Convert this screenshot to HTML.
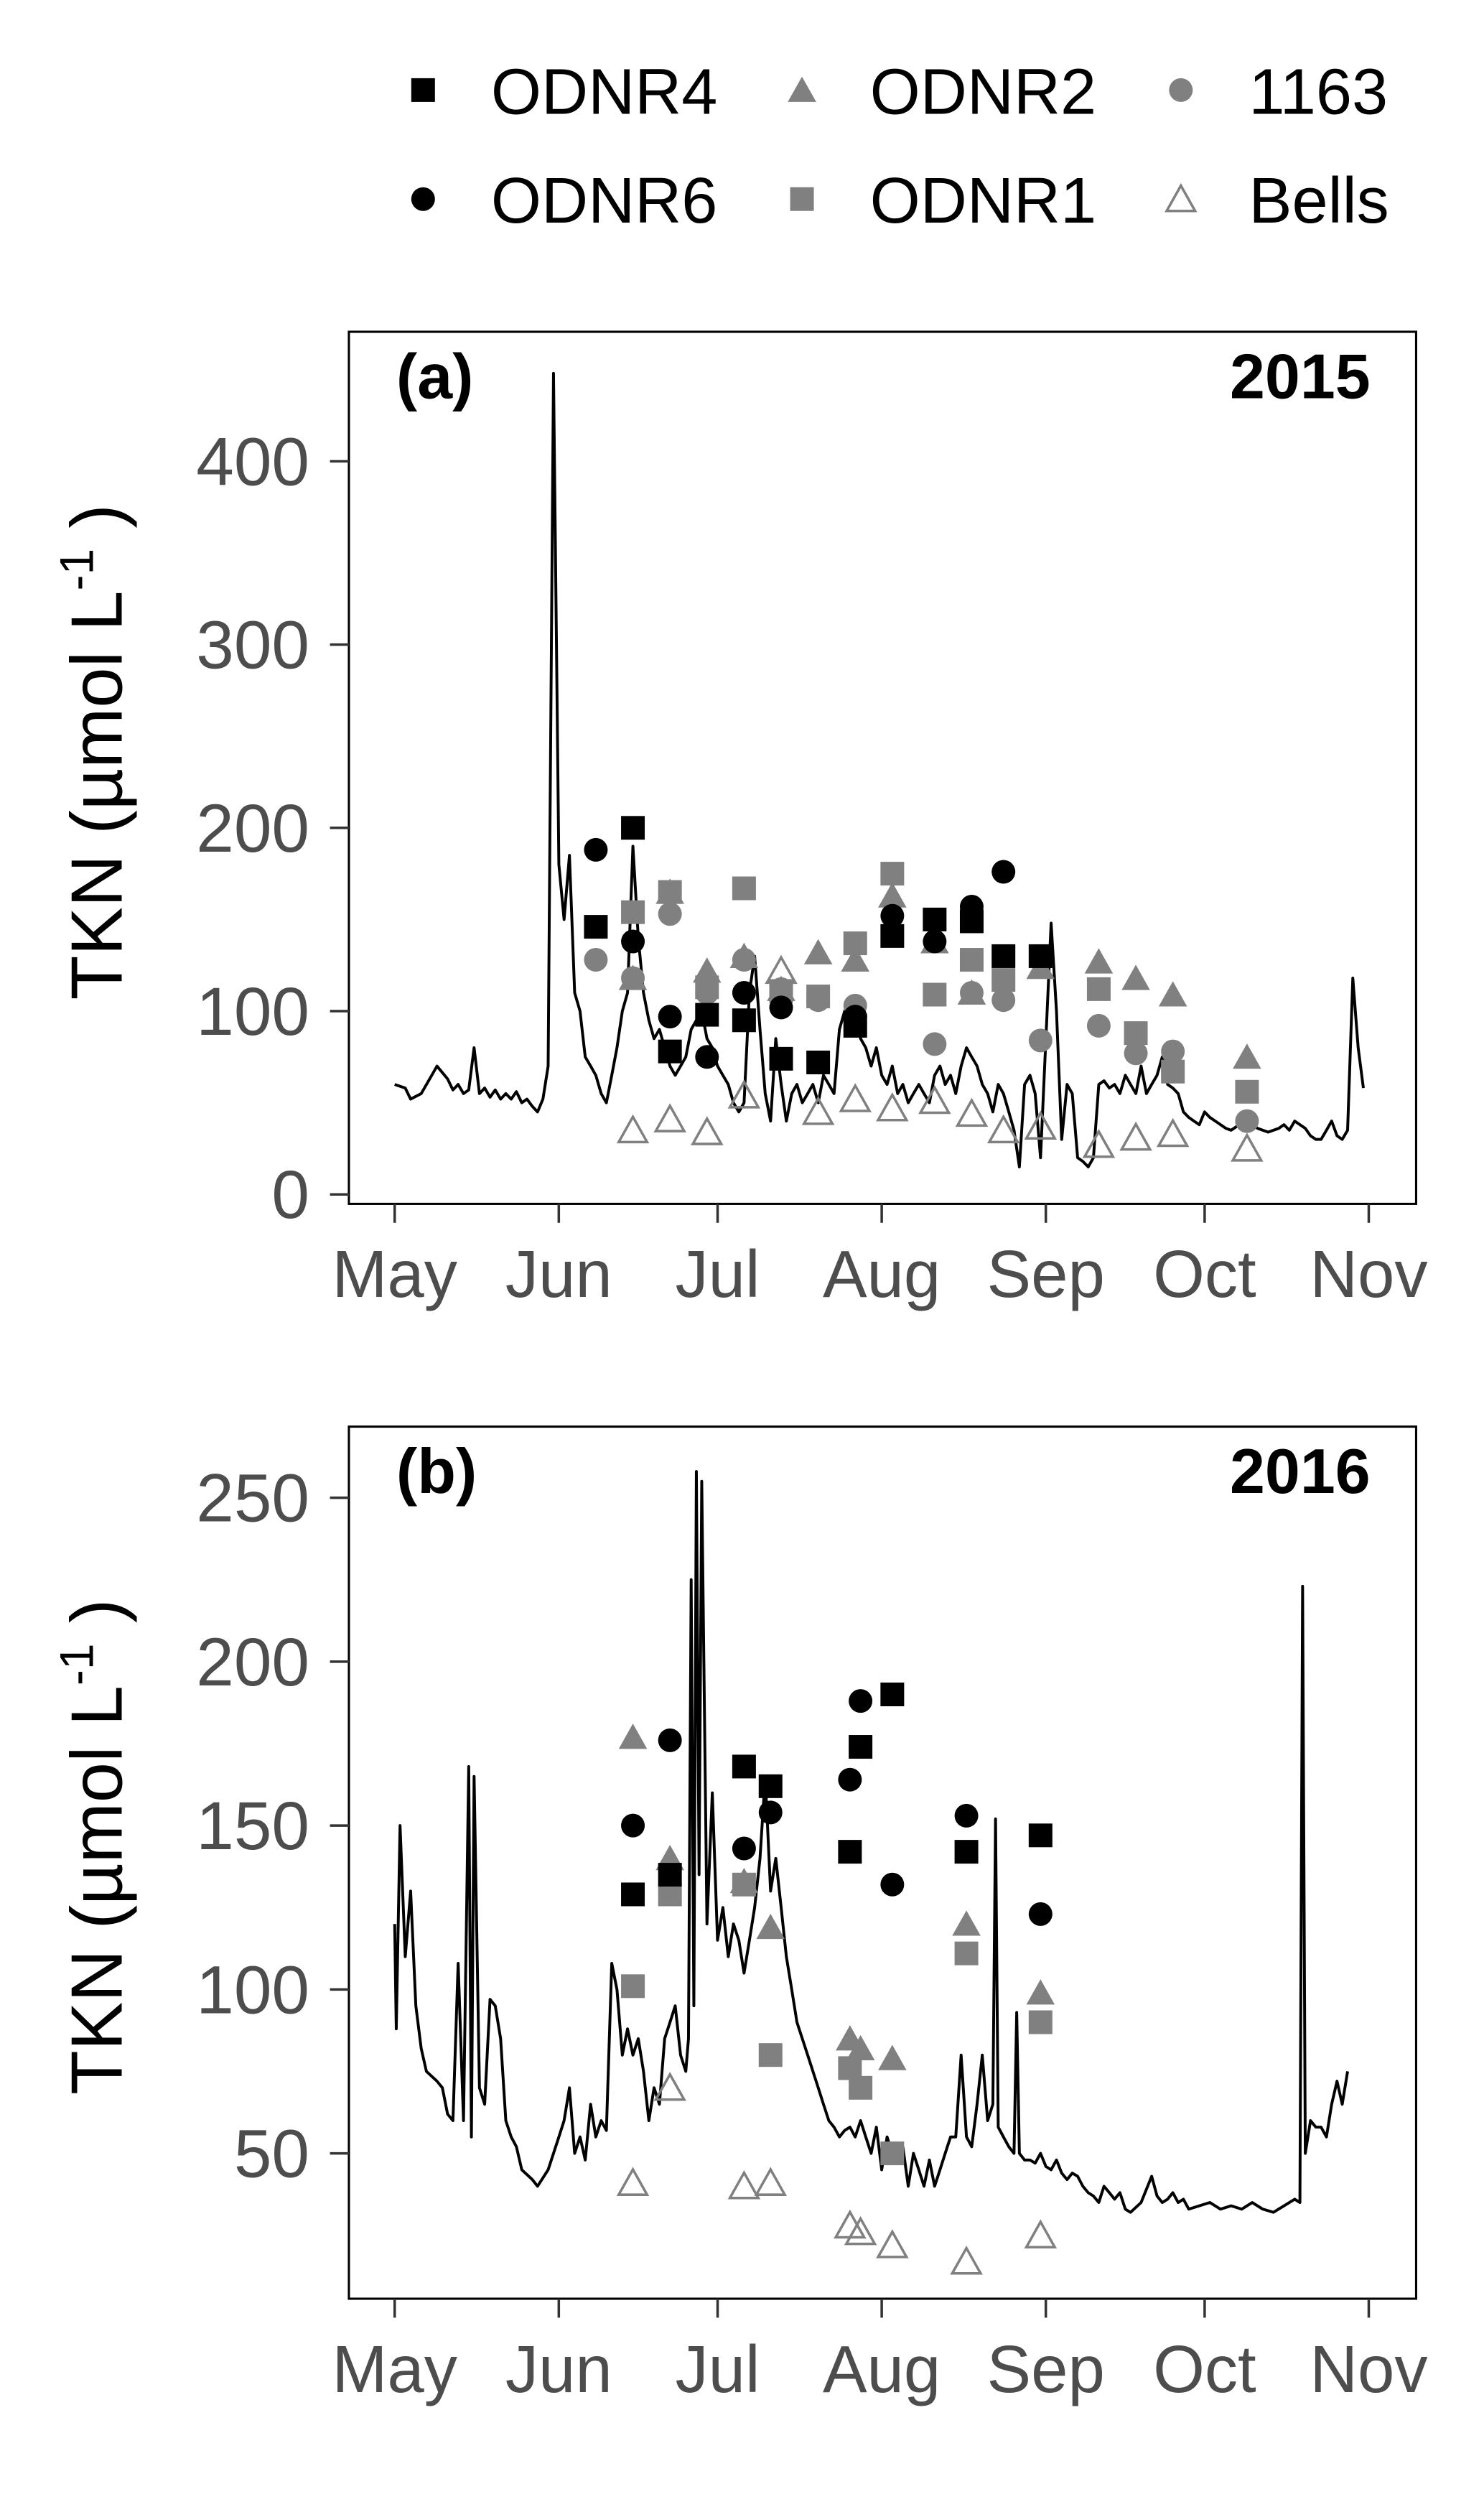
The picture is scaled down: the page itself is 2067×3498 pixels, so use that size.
<!DOCTYPE html>
<html><head><meta charset="utf-8">
<style>
html,body{margin:0;padding:0;background:#fff;}
svg{display:block;font-family:"Liberation Sans",Arial,sans-serif;}
</style></head>
<body>
<svg id="chart" width="2067" height="3498" viewBox="0 0 940 1590" preserveAspectRatio="none" xmlns="http://www.w3.org/2000/svg">
<g id="legend"></g>
<g id="pa"></g>
<g id="pb"></g>
</svg>
<script>
const monthLabels=["May","Jun","Jul","Aug","Sep","Oct","Nov"];
const monthDays=[0,31,61,92,123,153,184];
const ticksA=[0,100,200,300,400];
const ticksB=[50,100,150,200,250];
// 2015 data [day since May 1, TKN]
const lineA=[[0,60],[2,58],[3,52],[5,55],[7,65],[8,70],[10,63],[11,57],[12,60],[13,55],[14,57],[15,80],[16,55],[17,58],[18,53],[19,57],[20,52],[21,55],[22,52],[23,56],[24,50],[25,52],[26,48],[27,45],[28,52],[29,70],[30,448],[31,180],[32,150],[33,185],[34,110],[35,100],[36,75],[37,70],[38,65],[39,55],[40,50],[41,65],[42,80],[43,100],[44,110],[45,190],[46,140],[47,110],[48,95],[49,85],[50,90],[51,80],[52,70],[53,65],[54,70],[55,75],[56,90],[57,95],[58,100],[59,85],[60,80],[61,70],[62,65],[63,60],[64,50],[65,45],[66,50],[67,110],[68,130],[69,90],[70,55],[71,40],[72,85],[73,60],[74,40],[75,55],[76,60],[77,50],[78,55],[79,60],[80,50],[81,65],[82,60],[83,55],[84,90],[85,100],[86,105],[87,100],[88,85],[89,80],[90,70],[91,80],[92,65],[93,60],[94,70],[95,55],[96,60],[97,50],[98,55],[99,60],[100,55],[101,50],[102,65],[103,70],[104,60],[105,65],[106,55],[107,70],[108,80],[109,75],[110,70],[111,60],[112,55],[113,45],[114,60],[115,55],[116,45],[117,35],[118,15],[119,60],[120,65],[121,55],[122,20],[124,148],[125,100],[126,30],[127,60],[128,55],[129,20],[130,18],[131,15],[132,20],[133,60],[134,62],[135,58],[136,60],[137,55],[138,65],[139,60],[140,55],[141,70],[142,55],[143,60],[144,65],[145,75],[146,60],[147,58],[148,55],[149,45],[150,42],[151,40],[152,38],[153,45],[154,42],[155,40],[156,38],[157,36],[158,35],[159,37],[160,40],[161,42],[162,38],[163,36],[164,35],[165,34],[166,35],[167,36],[168,38],[169,35],[170,40],[171,38],[172,36],[173,32],[174,30],[175,30],[176,35],[177,40],[178,32],[179,30],[180,35],[181,118],[182,80],[183,58]];
const odnr4A=[[38,146],[45,200],[52,78],[59,98],[66,95],[73,74],[80,72],[87,92],[94,141],[102,150],[109,149],[115,130],[122,130]];
const odnr6A=[[38,188],[45,138],[52,97],[59,75],[66,110],[73,102],[87,97],[94,152],[102,138],[109,157],[115,176]];
const odnr2A=[[45,118],[52,165],[59,122],[66,130],[73,112],[80,132],[87,128],[94,163],[102,138],[109,110],[122,124],[133,127],[140,118],[147,109],[161,75]];
const odnr1A=[[45,154],[52,165],[59,113],[66,167],[73,111],[80,108],[87,137],[94,175],[102,109],[109,128],[115,117],[133,112],[140,88],[147,67],[161,56]];
const s1163A=[[38,128],[45,118],[52,153],[59,110],[66,128],[73,112],[80,106],[87,103],[102,82],[109,110],[115,106],[122,84],[133,92],[140,77],[147,78],[161,40]];
const bellsA=[[45,35],[52,41],[59,34],[66,54],[73,122],[80,45],[87,52],[94,47],[102,51],[109,44],[115,35],[122,37],[133,27],[140,31],[147,33],[161,25]];
// 2016 data
const lineB=[[0,120],[0.3,88],[1,150],[2,110],[3,130],[4,95],[5,82],[6,75],[8,72],[9,70],[10,62],[11,60],[12,108],[13,60],[14,168],[14.5,55],[15,165],[16,70],[17,65],[18,97],[19,95],[20,85],[21,60],[22,55],[23,52],[24,45],[26,42],[27,40],[29,45],[30,50],[31,55],[32,60],[33,70],[34,50],[35,55],[36,48],[37,65],[38,55],[39,60],[40,57],[41,108],[42,100],[43,80],[44,88],[45,80],[46,85],[47,75],[48,60],[49,70],[50,65],[51,85],[52,90],[53,95],[54,80],[55,75],[55.5,85],[56,225],[56.5,95],[57,258],[57.5,135],[58,255],[59,120],[60,160],[61,115],[62,125],[63,110],[64,120],[65,115],[66,105],[67,115],[68,125],[69,140],[70,165],[71,130],[72,140],[73,125],[74,110],[75,100],[76,90],[78,80],[80,70],[81,65],[82,60],[83,58],[84,55],[85,57],[86,58],[87,55],[88,60],[89,55],[90,50],[91,58],[92,45],[93,55],[94,50],[95,48],[96,52],[97,40],[98,50],[99,45],[100,40],[101,48],[102,40],[103,45],[104,50],[105,55],[106,55],[107,80],[108,55],[109,52],[110,65],[111,80],[112,60],[113,65],[113.5,152],[114,58],[115,55],[116,52],[117,50],[117.5,93],[118,50],[119,48],[120,48],[121,47],[122,50],[123,46],[124,45],[125,48],[126,44],[127,42],[128,44],[129,43],[130,40],[131,38],[132,37],[133,35],[134,40],[135,38],[136,36],[137,38],[138,33],[139,32],[141,35],[143,43],[144,37],[145,35],[146,36],[147,38],[148,35],[149,36],[150,33],[152,34],[154,35],[156,33],[158,34],[160,33],[162,35],[164,33],[166,32],[168,34],[170,36],[171,35],[171.5,223],[172,50],[173,60],[174,58],[175,58],[176,55],[177,65],[178,72],[179,65],[180,75]];
const odnr4B=[[45,129],[52,135],[66,168],[71,162],[86,142],[88,174],[94,190],[108,142],[122,147]];
const odnr6B=[[45,150],[52,176],[66,143],[71,154],[86,164],[88,188],[94,132],[108,153],[122,123]];
const odnr2B=[[45,177],[52,140],[66,133],[71,119],[86,85],[88,82],[94,79],[108,120],[122,99]];
const odnr1B=[[45,101],[52,129],[66,132],[71,80],[86,76],[88,70],[94,50],[108,111],[122,90]];
const s1163B=[];
const bellsB=[[45,41],[52,70],[66,40],[71,41],[86,28],[88,26],[94,22],[108,17],[122,25]];

const NS="http://www.w3.org/2000/svg";
const GREY="#808080";
function mk(tag,attrs,parent){const e=document.createElementNS(NS,tag);for(const k in attrs)e.setAttribute(k,attrs[k]);parent.appendChild(e);return e;}
function marker(g,kind,x,y){
  let e;
  if(kind==="sqB"||kind==="sqG"){e=mk("rect",{x:x-7.5,y:y-7.5,width:15,height:15,fill:kind==="sqB"?"#000":GREY},g);}
  else if(kind==="ciB"||kind==="ciG"){e=mk("circle",{cx:x,cy:y,r:7.5,fill:kind==="ciB"?"#000":GREY},g);}
  else if(kind==="trG"){e=mk("polygon",{points:`${x-9},${y+7.5} ${x+9},${y+7.5} ${x},${y-8.5}`,fill:GREY},g);}
  else {e=mk("polygon",{points:`${x-9},${y+7.5} ${x+9},${y+7.5} ${x},${y-8.5}`,fill:"none",stroke:GREY,"stroke-width":1.6},g);}
  return e;
}
// legend
const lg=document.getElementById("legend");
const legItems=[["sqB","ODNR4",268,57],["trG","ODNR2",508,57],["ciG","1163",748,57],["ciB","ODNR6",268,126],["sqG","ODNR1",508,126],["trO","Bells",748,126]];
legItems.forEach(it=>{
  const g=mk("g",{},lg);
  
  
  marker(g,it[0],it[2],it[3]);
  const t=mk("text",{x:it[2]+43,y:it[3]+15,"font-size":41,fill:"#000"},g);
  t.textContent=it[1];
});

function panel(gid,top,bottom,yMin,yMax,yPix0,yPix1,ticks,label,year,line,series){
  const g=document.getElementById(gid);
  const L=221,R=897;
  const xs=d=>250+d*(617/184);
  const ys=v=>yPix0+(v-yMin)*(yPix1-yPix0)/(yMax-yMin);
  const frame=mk("rect",{x:L,y:top,width:R-L,height:bottom-top,fill:"none",stroke:"#000","stroke-width":1.4},g);
  
  
  ticks.forEach(v=>{
    const y=ys(v);
    const tk=mk("line",{x1:L-12,x2:L,y1:y,y2:y,stroke:"#333","stroke-width":1.6},g);
    
    
    const t=mk("text",{x:L-25,y:y+15,"font-size":43,fill:"#4d4d4d","text-anchor":"end"},g);
    
    
    t.textContent=v;
  });
  monthDays.forEach((d,i)=>{
    const x=xs(d);
    const tk=mk("line",{x1:x,x2:x,y1:bottom,y2:bottom+12,stroke:"#333","stroke-width":1.6},g);
    
    
    const t=mk("text",{x:x,y:bottom+59,"font-size":42,fill:"#4d4d4d","text-anchor":"middle"},g);
    
    
    t.textContent=monthLabels[i];
  });
  const cy=(top+bottom)/2-10;
  const yt=mk("text",{x:0,y:0,"font-size":46,fill:"#000","text-anchor":"middle",transform:`translate(77,${cy}) rotate(-90)`},g);
  
  
  yt.innerHTML='TKN (µmol L<tspan dy="-18" font-size="30">-1</tspan><tspan dy="18"> )</tspan>';
  const pl=mk("text",{x:251,y:top+42,"font-size":40,"font-weight":"bold",fill:"#000"},g);
  
  
  pl.textContent=label;
  const yl=mk("text",{x:868,y:top+42,"font-size":40,"font-weight":"bold",fill:"#000","text-anchor":"end"},g);
  
  
  yl.textContent=year;
  const p=mk("path",{d:line.map((pt,i)=>(i?"L":"M")+xs(pt[0]).toFixed(1)+","+ys(pt[1]).toFixed(1)).join(""),fill:"none",stroke:"#000","stroke-width":1.8,"stroke-linejoin":"round"},g);
  
  
  series.forEach(s=>{
    const sg=mk("g",{},g);
    
    
    s[1].forEach(pt=>{
      const m=marker(sg,s[0],xs(pt[0]),ys(pt[1]));
      
      
    });
  });
}
panel("pa",210,762,0,400,756,292,ticksA,"(a)","2015",lineA,
 [["trO",bellsA,"bells-series"],["ciG",s1163A,"s1163-series"],["sqG",odnr1A,"odnr1-series"],["trG",odnr2A,"odnr2-series"],["ciB",odnr6A,"odnr6-series"],["sqB",odnr4A,"odnr4-series"]]);
panel("pb",903,1455,50,250,1363,948,ticksB,"(b)","2016",lineB,
 [["trO",bellsB,"bells-series"],["ciG",s1163B,"s1163-series"],["sqG",odnr1B,"odnr1-series"],["trG",odnr2B,"odnr2-series"],["ciB",odnr6B,"odnr6-series"],["sqB",odnr4B,"odnr4-series"]]);
</script>
</body></html>
